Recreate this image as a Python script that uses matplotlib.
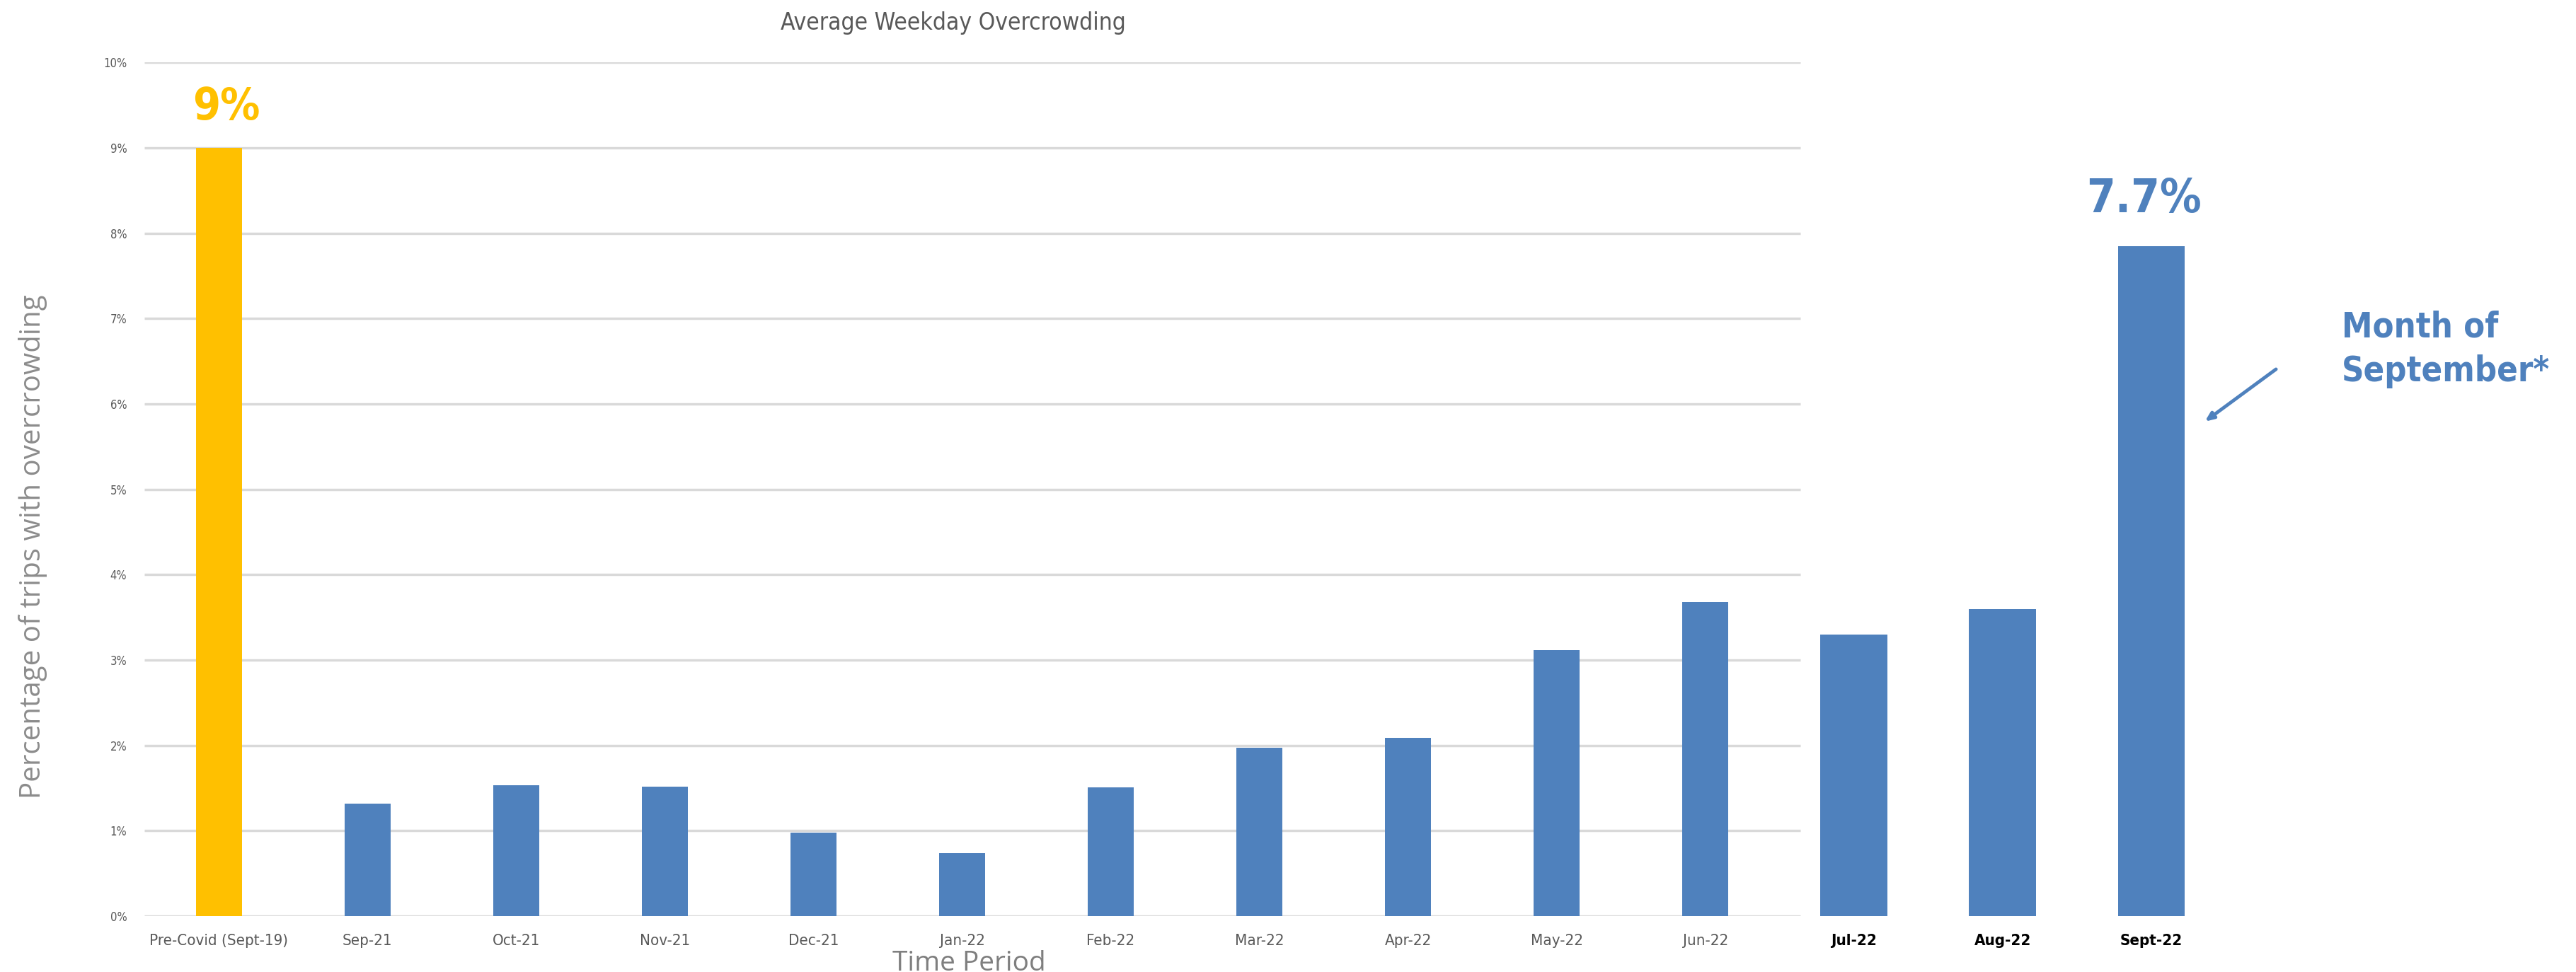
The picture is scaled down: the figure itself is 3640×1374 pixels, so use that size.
import matplotlib
matplotlib.use('Agg')
import matplotlib.pyplot as plt

# Dane (procent kursow z przepelnieniem)
labels = ['Pre-Covid (Sept-19)', 'Sep-21', 'Oct-21', 'Nov-21', 'Dec-21', 'Jan-22',
          'Feb-22', 'Mar-22', 'Apr-22', 'May-22', 'Jun-22', 'Jul-22', 'Aug-22', 'Sept-22']
values = [9.0, 1.32, 1.53, 1.52, 0.98, 0.74, 1.51, 1.97, 2.09, 3.12, 3.68, 3.30, 3.60, 7.85]
n_old = 11  # slupki z oryginalnego wykresu (z siatka)
yticks = [0, 1, 2, 3, 4, 5, 6, 7, 8, 9, 10]
pre_label = '9%'
sept_label = '7.7%'
note = 'Month of\nSeptember*'

ORANGE = '#FFC000'
BLUE = '#4F81BD'
GRID = '#D9D9D9'
GRAY = '#595959'

plt.rcParams['font.family'] = ['Liberation Sans Narrow', 'DejaVu Sans']
plt.rcParams['font.stretch'] = 'condensed'

fig = plt.figure(figsize=(36.41, 13.74), dpi=100)
ax = fig.add_axes([0.0561, 0.0574, 0.848, 0.8784])

x = list(range(len(values)))
colors = [ORANGE] + [BLUE] * (len(values) - 1)
widths = [0.31] * n_old + [0.45] * (len(values) - n_old)
ax.bar(x, values, width=widths, color=colors, zorder=3)

ax.set_xlim(-0.5, 14.2)
ax.set_ylim(0, 10)

# siatka tylko pod starym wykresem
ax.hlines(yticks, -0.5, n_old - 0.36, colors=GRID, lw=2.5, zorder=1)

for s in ax.spines.values():
    s.set_visible(False)

ax.set_yticks(yticks)
ax.set_yticklabels([f'{t}%' for t in yticks], fontsize=12, color=GRAY)
ax.tick_params(axis='y', length=0, pad=18)
ax.set_xticks(x)
ax.set_xticklabels(labels, fontsize=16, color=GRAY)
ax.tick_params(axis='x', length=0, pad=18)
for t in ax.get_xticklabels()[n_old:]:
    t.set_color('black')
    t.set_fontweight('bold')
    t.set_fontsize(16)

# duze etykiety
ax.text(x[0] + 0.05, values[0] + 0.22, pre_label, ha='center', va='bottom',
        fontsize=45, fontweight='bold', color=ORANGE)
ax.text(x[-1] - 0.05, values[-1] + 0.28, sept_label, ha='center', va='bottom',
        fontsize=47, fontweight='bold', color=BLUE)

ax.text(14.28, 6.64, note, ha='left', va='center', fontsize=35,
        fontweight='bold', color=BLUE, linespacing=1.4, clip_on=False)
ax.annotate('', xy=(13.35, 5.78), xytext=(13.85, 6.42),
            arrowprops=dict(arrowstyle='-|>,head_length=0.7,head_width=0.3',
                            color=BLUE, lw=3.5), annotation_clip=False)

fig.text(0.37, 0.976, 'Average Weekday Overcrowding', ha='center', va='center',
         fontsize=24, color=GRAY)
fig.text(0.0127, 0.4375, 'Percentage of trips with overcrowding', rotation=90,
         ha='center', va='center', fontsize=29, color='#8C8C8C',
         family=['Open Sans', 'DejaVu Sans'], fontstretch='normal')
fig.text(0.376, 0.009, 'Time Period', ha='center', va='center', fontsize=28,
         color='#7F7F7F', family=['Open Sans', 'DejaVu Sans'], fontstretch='normal')

fig.savefig('out.png', dpi=100)
